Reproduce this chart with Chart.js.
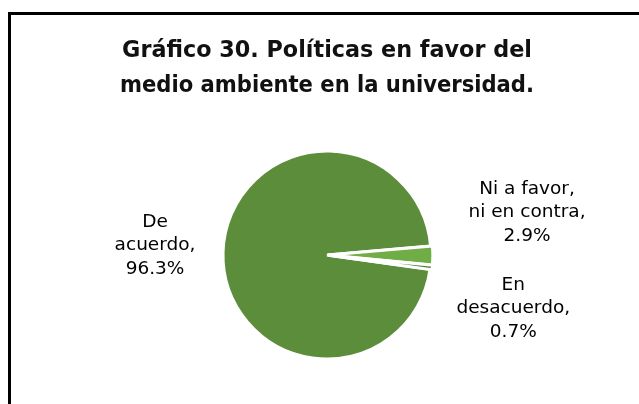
<!DOCTYPE html>
<html>
<head>
<meta charset="utf-8">
<script src="https://cdn.jsdelivr.net/npm/chart.js@4/dist/chart.umd.min.js"></script>
<style>
  html, body { margin: 0; padding: 0; background: #ffffff; }
  #wrap { width: 639px; height: 404px; }
</style>
</head>
<body>
<div id="wrap"><canvas id="c" width="639" height="404"></canvas></div>
<script>
// ---- data ----
const titleLines = ["Gráfico 30. Políticas en favor del", "medio ambiente en la universidad."];
const categories = ["De acuerdo", "Ni a favor, ni en contra", "En desacuerdo"];
const labelLines = [["De", "acuerdo,"], ["Ni a favor,", "ni en contra,"], ["En", "desacuerdo,"]];
const percentages = [96.3, 2.9, 0.7];
const sliceColors = ["#5b8d3b", "#70ad47", "#4f7d31"];

// label placement relative to the outer point of each slice's mid angle
const labelOffsets = [[-68, -7], [96, -43], [83, 41]];

const framePlugin = {
  id: 'frame',
  beforeDraw(chart) {
    const ctx = chart.ctx;
    ctx.save();
    ctx.fillStyle = '#ffffff';
    ctx.fillRect(0, 0, chart.width, chart.height);
    ctx.fillStyle = '#000000';
    ctx.fillRect(8, 12, 3, chart.height - 12);
    ctx.fillRect(8, 12, chart.width - 8, 3);
    ctx.restore();
  }
};

const labelPlugin = {
  id: 'sliceLabels',
  afterDatasetsDraw(chart) {
    const ctx = chart.ctx;
    const meta = chart.getDatasetMeta(0);
    ctx.save();
    ctx.font = '18.5px "DejaVu Sans"';
    ctx.fillStyle = '#000000';
    ctx.textAlign = 'center';
    ctx.textBaseline = 'middle';
    const lh = 23.5;
    meta.data.forEach((arc, i) => {
      const p = arc.getProps(['x', 'y', 'startAngle', 'endAngle', 'outerRadius'], true);
      const mid = (p.startAngle + p.endAngle) / 2;
      const ax = p.x + Math.cos(mid) * p.outerRadius + labelOffsets[i][0];
      const ay = p.y + Math.sin(mid) * p.outerRadius + labelOffsets[i][1];
      const lines = labelLines[i].concat([percentages[i].toFixed(1) + '%']);
      const y0 = ay - (lines.length - 1) * lh / 2;
      lines.forEach((t, k) => ctx.fillText(t, ax, y0 + k * lh));
    });
    ctx.restore();
  }
};

new Chart(document.getElementById('c'), {
  type: 'pie',
  data: {
    labels: categories,
    datasets: [{
      data: percentages,
      backgroundColor: sliceColors,
      borderColor: '#ffffff',
      borderWidth: 3,
      offset: [0, 4, 4],
      hoverOffset: 0
    }]
  },
  options: {
    responsive: false,
    animation: false,
    rotation: 98,
    radius: 104,
    layout: { padding: { left: 120, right: 105, top: 0, bottom: 45 } },
    plugins: {
      legend: { display: false },
      tooltip: { enabled: false },
      title: {
        display: true,
        text: titleLines,
        color: '#111111',
        font: { family: '"DejaVu Sans"', size: 22.3, weight: 'bold', lineHeight: 1.55 },
        padding: { top: 34, bottom: 48 }
      }
    }
  },
  plugins: [framePlugin, labelPlugin]
});
</script>
</body>
</html>
